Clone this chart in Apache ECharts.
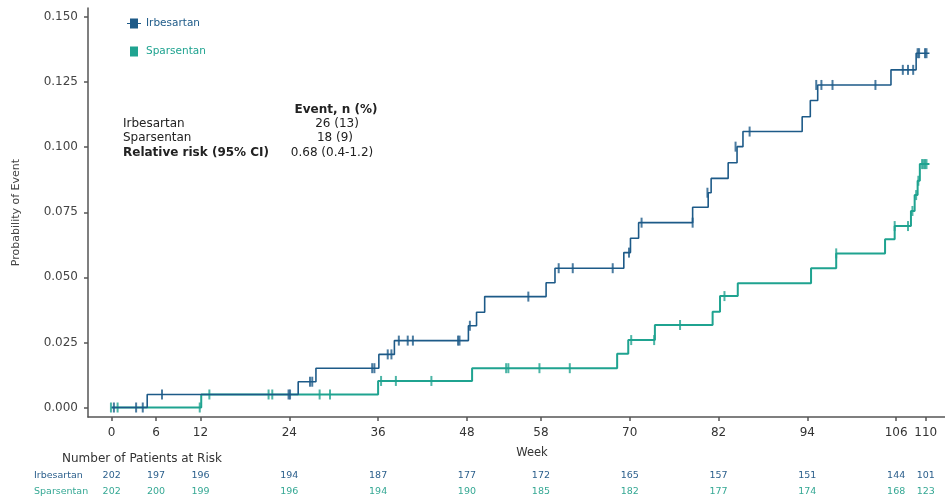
<!DOCTYPE html>
<html>
<head>
<meta charset="utf-8">
<script src="https://cdn.jsdelivr.net/npm/echarts@6/dist/echarts.min.js"></script>
<style>
html,body{margin:0;padding:0;background:#fff;}
#chart{width:945px;height:503px;}
</style>
</head>
<body>
<div id="chart"></div>
<script>
// ---- data ----
const weekTicks = [0, 6, 12, 24, 36, 48, 58, 70, 82, 94, 106, 110];
const riskIrbesartan = [202, 197, 196, 194, 187, 177, 172, 165, 157, 151, 144, 101];
const riskSparsentan = [202, 200, 199, 196, 194, 190, 185, 182, 177, 174, 168, 123];
const probTicks = [0, 0.025, 0.05, 0.075, 0.1, 0.125, 0.15];

// cumulative probability of event [week, probability]
const irbesartanCurve = [
  [0, 0], [4.8, 0.005], [25.2, 0.0099], [27.6, 0.0151], [36.1, 0.0204], [38.2, 0.0257],
  [48.2, 0.0314], [49.3, 0.0366], [50.4, 0.0426], [58.7, 0.0479], [59.9, 0.0535],
  [69.2, 0.0595], [70.1, 0.065], [71.2, 0.071], [78.5, 0.0769], [80.6, 0.0825],
  [81.0, 0.088], [83.3, 0.094], [84.5, 0.1002], [85.3, 0.106], [93.3, 0.1117],
  [94.4, 0.1179], [95.4, 0.1239], [105.3, 0.1297], [108.7, 0.1361], [110.5, 0.1361]
];
const sparsentanCurve = [
  [0, 0], [12.1, 0.005], [36.0, 0.0102], [48.7, 0.0151], [68.3, 0.0206], [69.8, 0.0259],
  [73.4, 0.0317], [81.2, 0.0368], [82.2, 0.0428], [84.6, 0.0477], [94.5, 0.0535],
  [97.9, 0.0592], [104.5, 0.0646], [105.8, 0.0697], [108.0, 0.0755], [108.5, 0.0816],
  [108.9, 0.0871], [109.2, 0.0935], [110.5, 0.0935]
];
// censored observations [week, probability]
const irbesartanCensor = [
  [0.3, 0], [3.3, 0], [4.2, 0], [6.8, 0.005], [23.9, 0.005], [24.1, 0.005],
  [26.8, 0.0099], [27.1, 0.0099], [35.2, 0.0151], [35.5, 0.0151], [37.3, 0.0204], [37.8, 0.0204],
  [38.8, 0.0257], [40.0, 0.0257], [40.7, 0.0257], [46.8, 0.0257], [47.0, 0.0257],
  [48.4, 0.0314], [56.3, 0.0426], [60.4, 0.0535], [62.3, 0.0535], [67.7, 0.0535],
  [69.9, 0.0595], [71.6, 0.071], [78.5, 0.071], [80.5, 0.0825], [84.3, 0.1002], [86.2, 0.106],
  [95.2, 0.1239], [95.9, 0.1239], [97.4, 0.1239], [103.2, 0.1239],
  [106.9, 0.1297], [107.6, 0.1297], [108.3, 0.1297],
  [108.9, 0.1361], [109.1, 0.1361], [109.9, 0.1361], [110.1, 0.1361]
];
const sparsentanCensor = [
  [-0.1, 0], [0.8, 0], [11.9, 0], [13.2, 0.005], [21.2, 0.005], [21.7, 0.005], [28.1, 0.005], [29.5, 0.005],
  [36.4, 0.0102], [38.4, 0.0102], [43.2, 0.0102], [53.3, 0.0151], [53.6, 0.0151], [57.8, 0.0151], [61.9, 0.0151],
  [70.2, 0.0259], [73.3, 0.0259], [76.8, 0.0317], [82.8, 0.0428], [97.9, 0.0592],
  [105.8, 0.0697], [107.6, 0.0697], [108.2, 0.0755], [108.7, 0.0816], [109.0, 0.0871],
  [109.5, 0.0935], [109.7, 0.0935], [109.9, 0.0935], [110.1, 0.0935]
];

const BLUE = '#1d5a88';
const TEAL = '#1fa390';
const FONT = 'DejaVu Sans';

const chart = echarts.init(document.getElementById('chart'), null, {renderer: 'canvas'});

const option = {
  backgroundColor: '#fff',
  animation: false,
  textStyle: {fontFamily: FONT},
  grid: {left: 88, right: 0, top: 8, bottom: 86, outerBoundsMode: 'none', containLabel: false},
  legend: {
    orient: 'vertical',
    left: 122,
    top: 13,
    itemGap: 17,
    itemWidth: 14,
    itemHeight: 10,
    symbolKeepAspect: true,
    textStyle: {fontFamily: FONT, fontSize: 10.5},
    data: [
      {name: 'Irbesartan', icon: 'path://M0,4.4H3V0H11V4.4H14V5.6H11V10H3V5.6H0Z', textStyle: {color: BLUE}},
      {name: 'Sparsentan', icon: 'path://M3,0H11V10H3Z', textStyle: {color: TEAL}}
    ]
  },
  xAxis: {
    type: 'value',
    min: -3.2,
    max: 112.6,
    splitLine: {show: false},
    axisLine: {show: true, onZero: false, lineStyle: {color: '#555', width: 1.5}},
    axisTick: {show: true, length: 4, lineStyle: {color: '#555', width: 1.5}, customValues: weekTicks},
    axisLabel: {
      customValues: weekTicks,
      margin: 9,
      formatter: function (v) {
        const i = weekTicks.indexOf(v);
        return '{t|' + v + '}\n{g| }\n{a|' + riskIrbesartan[i] + '}\n{b|' + riskSparsentan[i] + '}';
      },
      rich: {
        t: {fontFamily: FONT, fontSize: 12, color: '#333', lineHeight: 14},
        g: {fontSize: 10, lineHeight: 28},
        a: {fontFamily: FONT, fontSize: 9.5, color: '#2b5f8c', lineHeight: 16},
        b: {fontFamily: FONT, fontSize: 9.5, color: '#35a894', lineHeight: 16}
      }
    }
  },
  yAxis: {
    type: 'value',
    min: -0.00365,
    max: 0.15346,
    name: 'Probability of Event',
    nameLocation: 'middle',
    nameGap: 66,
    nameMoveOverlap: false,
    nameTextStyle: {fontFamily: FONT, fontSize: 11, color: '#444'},
    splitLine: {show: false},
    axisLine: {show: true, onZero: false, lineStyle: {color: '#555', width: 1.5}},
    axisTick: {show: true, length: 4, lineStyle: {color: '#555', width: 1.5}, customValues: probTicks},
    axisLabel: {
      customValues: probTicks,
      margin: 10,
      fontFamily: FONT,
      fontSize: 12,
      color: '#444',
      formatter: function (v) { return v.toFixed(3); }
    }
  },
  series: [
    {
      name: 'Sparsentan', type: 'line', step: 'end', showSymbol: false, symbol: 'none',
      data: sparsentanCurve, lineStyle: {color: TEAL, width: 2}, itemStyle: {color: TEAL}, z: 2
    },
    {
      name: 'Sparsentan censored', type: 'scatter', symbol: 'rect', symbolSize: [2, 10],
      data: sparsentanCensor, itemStyle: {color: TEAL}, z: 3
    },
    {
      name: 'Irbesartan', type: 'line', step: 'end', showSymbol: false, symbol: 'none',
      data: irbesartanCurve, lineStyle: {color: BLUE, width: 1.6}, itemStyle: {color: BLUE}, z: 4
    },
    {
      name: 'Irbesartan censored', type: 'scatter', symbol: 'rect', symbolSize: [2, 10],
      data: irbesartanCensor, itemStyle: {color: BLUE}, z: 5
    }
  ],
  graphic: [
    {type: 'text', x: 336, y: 110, style: {text: 'Event, n (%)', font: 'bold 12px "DejaVu Sans"', fill: '#222', align: 'center', verticalAlign: 'middle'}},
    {type: 'text', x: 123, y: 124, style: {text: 'Irbesartan', font: '12px "DejaVu Sans"', fill: '#222', align: 'left', verticalAlign: 'middle'}},
    {type: 'text', x: 337, y: 124, style: {text: '26 (13)', font: '12px "DejaVu Sans"', fill: '#222', align: 'center', verticalAlign: 'middle'}},
    {type: 'text', x: 123, y: 138, style: {text: 'Sparsentan', font: '12px "DejaVu Sans"', fill: '#222', align: 'left', verticalAlign: 'middle'}},
    {type: 'text', x: 335, y: 138, style: {text: '18 (9)', font: '12px "DejaVu Sans"', fill: '#222', align: 'center', verticalAlign: 'middle'}},
    {type: 'text', x: 123, y: 153, style: {text: 'Relative risk (95% CI)', font: 'bold 12px "DejaVu Sans"', fill: '#222', align: 'left', verticalAlign: 'middle'}},
    {type: 'text', x: 332, y: 153, style: {text: '0.68 (0.4-1.2)', font: '12px "DejaVu Sans"', fill: '#222', align: 'center', verticalAlign: 'middle'}},
    {type: 'text', x: 532, y: 453, style: {text: 'Week', font: '11.5px "DejaVu Sans"', fill: '#333', align: 'center', verticalAlign: 'middle'}},
    {type: 'text', x: 62, y: 459, style: {text: 'Number of Patients at Risk', font: '12px "DejaVu Sans"', fill: '#333', align: 'left', verticalAlign: 'middle'}},
    {type: 'text', x: 34, y: 476, style: {text: 'Irbesartan', font: '9.5px "DejaVu Sans"', fill: '#2b5f8c', align: 'left', verticalAlign: 'middle'}},
    {type: 'text', x: 34, y: 492, style: {text: 'Sparsentan', font: '9.5px "DejaVu Sans"', fill: '#35a894', align: 'left', verticalAlign: 'middle'}}
  ]
};
chart.setOption(option);
</script>
</body>
</html>
